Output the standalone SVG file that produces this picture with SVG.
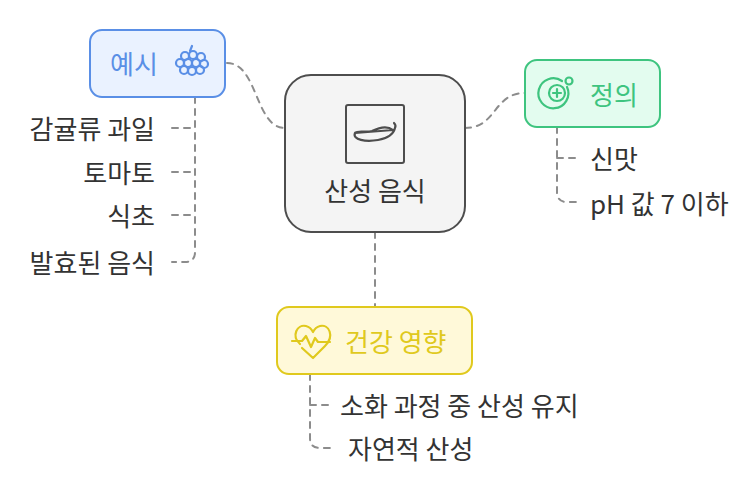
<svg xmlns="http://www.w3.org/2000/svg" width="754" height="479" viewBox="0 0 754 479">
<style>
text{font-family:"Noto Sans CJK KR","Noto Sans",sans-serif;font-size:26px;fill:#333;dominant-baseline:central}
.c{fill:none;stroke:#8c8c8c;stroke-width:2;stroke-dasharray:6 6;stroke-linecap:round}
.ic{fill:none;stroke-width:2.2;stroke-linecap:round;stroke-linejoin:round}
</style>
<rect width="754" height="479" fill="#fff"/>
<g id="connectors">
<path class="c" d="M227,63 C258,63 255,128 285,128"/>
<path class="c" d="M465,128 C497,128 493,93 525,93"/>
<path class="c" d="M375,232 L375,307"/>
<path class="c" d="M195,97 V252 Q195,262 185,262 H172 M172,128 H195 M172,172 H195 M172,215 H195"/>
<path class="c" d="M557,127 V192 Q557,202 567,202 H580 M557,158 H580"/>
<path class="c" d="M310,374 V438 Q310,448 320,448 H330 M310,405 H330"/>
</g>
<g id="center">
<rect x="285" y="75" width="180" height="157" rx="26" fill="#f4f4f4" stroke="#4d4d4d" stroke-width="2"/>
<rect x="346" y="105" width="58" height="58" rx="2" fill="none" stroke="#4d4d4d" stroke-width="2"/>
<path class="ic" stroke="#4d4d4d" d="M355,133 C352,140 366,142 378,140 C390,138 394,132 395,128 M395,128 C396,126 395,124 394,123 M393,130 C388,126 380,127 372,131 C366,133 358,130 355,133 Z"/>
<text x="375" y="189" text-anchor="middle">산성 음식</text>
</g>
<g id="example">
<rect x="90" y="30" width="135" height="67" rx="12" fill="#eaf2ff" stroke="#5a8fe6" stroke-width="2"/>
<text x="110" y="62" style="fill:#5a8fe6">예시</text>
<g class="ic" stroke="#5a8fe6" stroke-width="1.8">
<path d="M190,51 L192,46"/>
<circle cx="185" cy="56" r="4"/><circle cx="193" cy="55" r="4"/><circle cx="201" cy="57" r="4"/>
<circle cx="180" cy="63" r="4"/><circle cx="188" cy="63" r="4"/><circle cx="196" cy="63" r="4"/><circle cx="204" cy="64" r="4"/>
<circle cx="184" cy="70" r="4"/><circle cx="192" cy="71" r="4"/><circle cx="200" cy="70" r="4"/>
</g>
</g>
<g id="definition">
<rect x="525" y="60" width="135" height="67" rx="12" fill="#e3fcef" stroke="#3ec47f" stroke-width="2"/>
<g class="ic" stroke="#3ec47f">
<path d="M567,87 A15,15 0 1 1 562,81"/>
<circle cx="557" cy="93" r="8"/>
<path d="M553,93 H561 M557,89 V97"/>
<circle cx="569" cy="81" r="3.5"/>
</g>
<text x="590" y="93" style="fill:#3ec47f">정의</text>
</g>
<g id="health">
<rect x="277" y="307" width="195" height="67" rx="12" fill="#fff9d9" stroke="#e0c91d" stroke-width="2"/>
<path class="ic" stroke="#e0c91d" d="M302,348 L313,358 L325,346 C335,336 329,324 320,326 C316,327 314,330 313,332 C312,330 310,327 306,326 C297,324 291,336 300,344 M292,341 H302 L306,336 L311,347 L315,338 L318,342 H330"/>
<text x="345" y="340" style="fill:#e0c91d">건강 영향</text>
</g>
<g id="ex-items">
<text x="155" y="127" text-anchor="end">감귤류 과일</text>
<text x="155" y="171" text-anchor="end">토마토</text>
<text x="155" y="214" text-anchor="end">식초</text>
<text x="155" y="261" text-anchor="end">발효된 음식</text>
</g>
<g id="def-items">
<text x="590" y="157">신맛</text>
<text x="590" y="202">pH 값 7 이하</text>
</g>
<g id="health-items">
<text x="340" y="404">소화 과정 중 산성 유지</text>
<text x="348" y="447">자연적 산성</text>
</g>
</svg>
